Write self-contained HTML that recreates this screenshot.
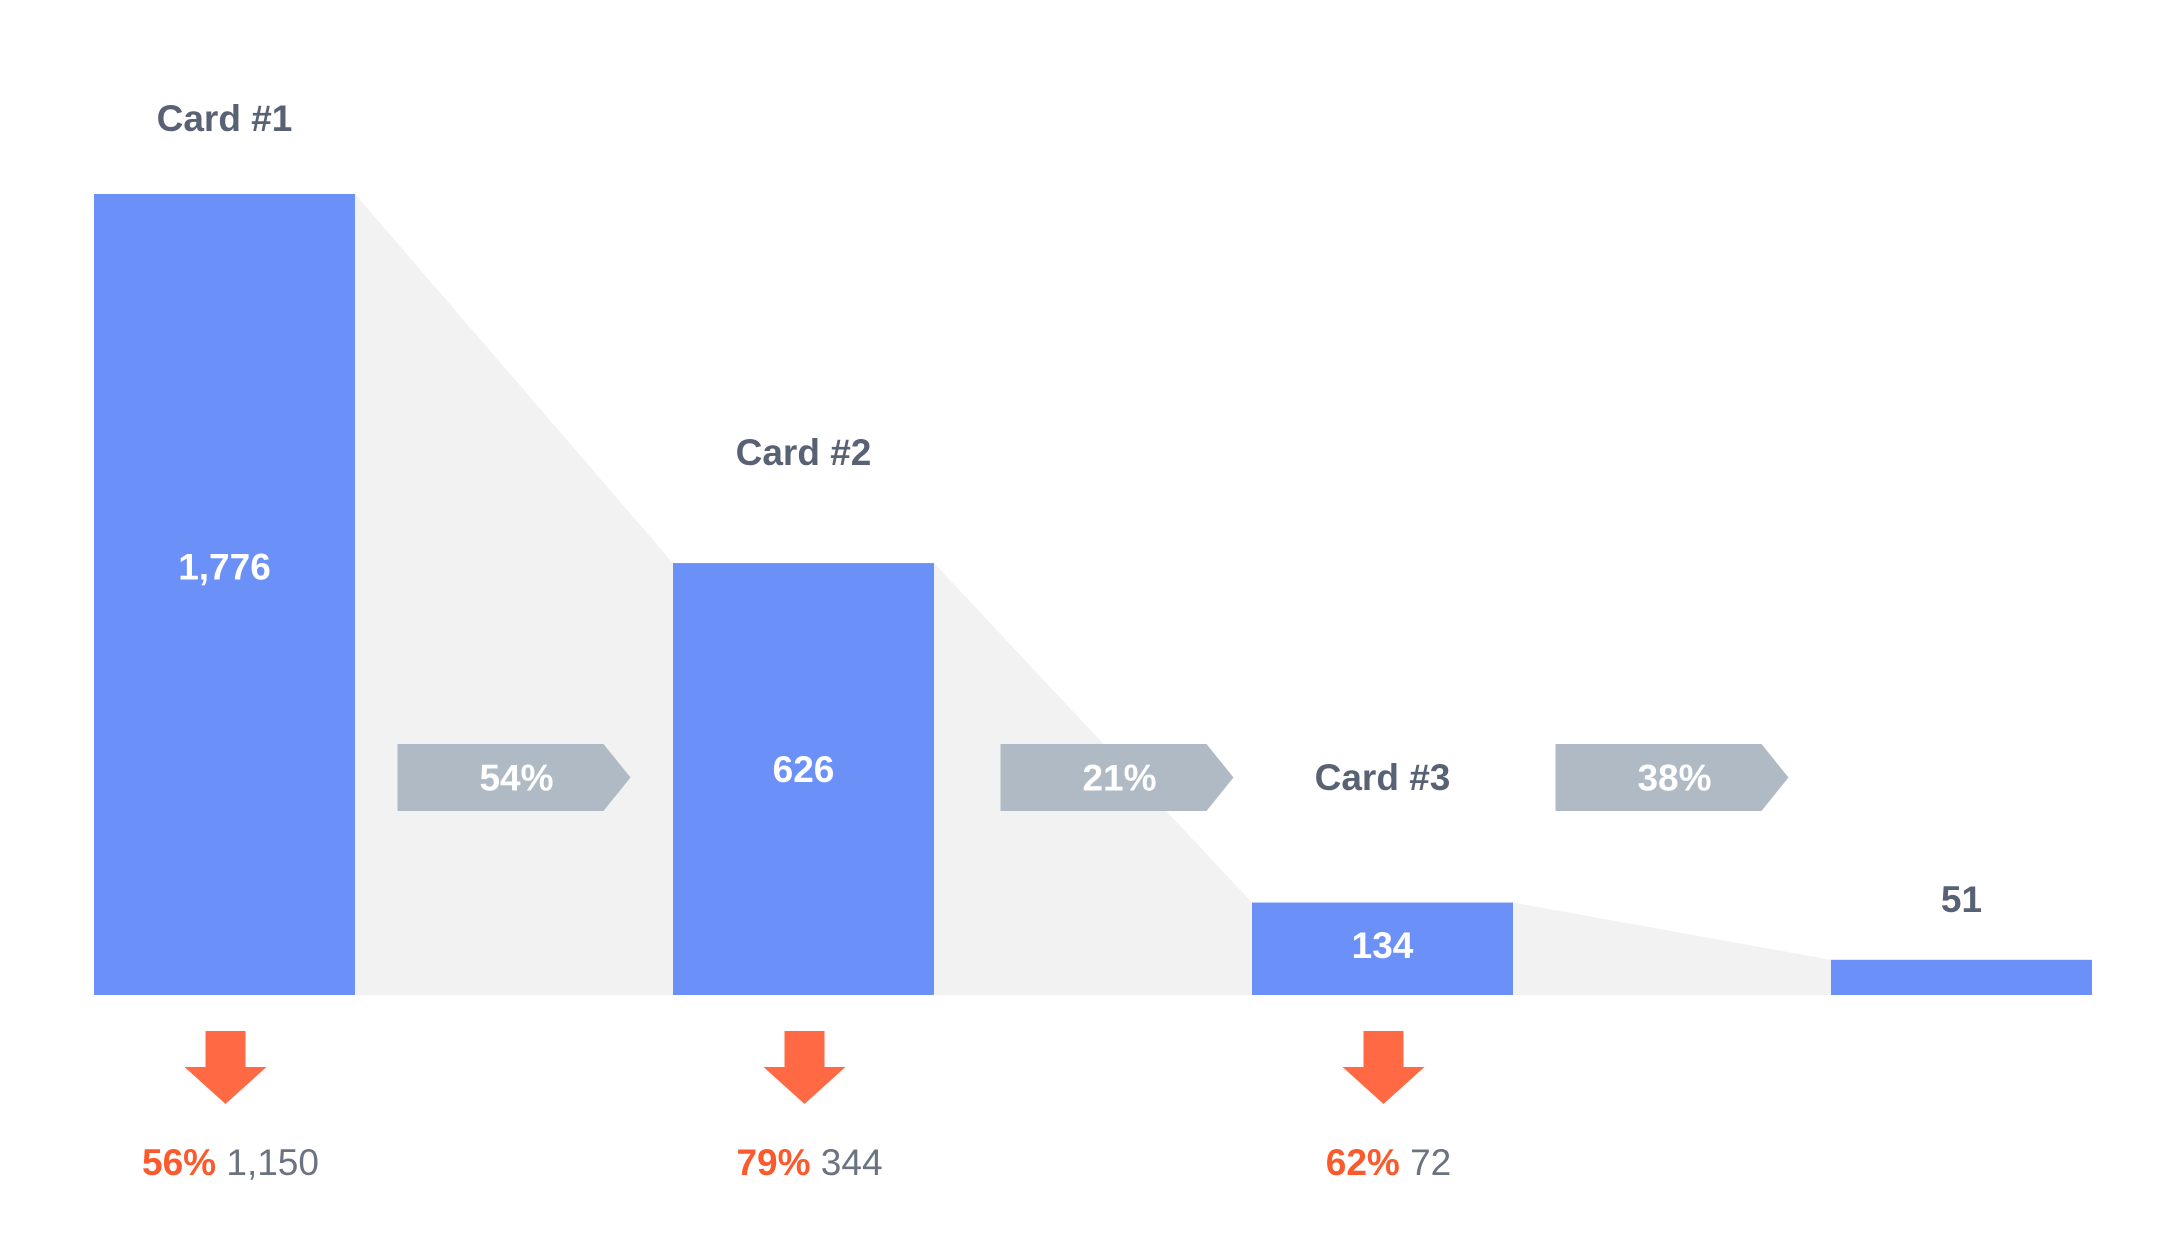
<!DOCTYPE html>
<html><head><meta charset="utf-8"><style>
html,body{margin:0;padding:0;background:#fff;}
svg{display:block;font-family:"Liberation Sans",sans-serif;}
</style></head><body>
<svg id="chart" width="2168" height="1236" viewBox="0 0 2168 1236" xmlns="http://www.w3.org/2000/svg"></svg>
<script>
const categories = ["Card #1", "Card #2", "Card #3", ""];
const values = [1776, 626, 134, 51];
const valueLabels = ["1,776", "626", "134", "51"];
const conversionLabels = ["54%", "21%", "38%"];
const dropPctLabels = ["56%", "79%", "62%"];
const dropCountLabels = ["1,150", "344", "72"];

const NS = "http://www.w3.org/2000/svg";
const svg = document.getElementById("chart");
const baseY = 995, maxH = 801, x0 = 94, step = 579, barW = 261, k = 0.69;
function yScale(v){ return baseY - Math.min(maxH, v * k); }
function xScale(i){ return x0 + i * step; }
function mk(tag, attrs, text){
  const el = document.createElementNS(NS, tag);
  for (const a in attrs) el.setAttribute(a, attrs[a]);
  if (text !== undefined) el.textContent = text;
  svg.appendChild(el);
  return el;
}
for (let i = 0; i < values.length - 1; i++) {
  const p = mk("polygon", {points:
    `${xScale(i)+barW},${yScale(values[i])} ${xScale(i+1)},${yScale(values[i+1])} ${xScale(i+1)},${baseY} ${xScale(i)+barW},${baseY}`, fill:"#f2f2f2"});
  
  
}
values.forEach((v, i) => {
  const x = xScale(i), y = yScale(v), cx = x + barW/2;
  const r = mk("rect", {x:x, y:y, width:barW, height:baseY - y, fill:"#6b91f8"});
  
  
  const h = baseY - y;
  if (h > 70) {
    const off = h > 600 ? -28 : (h > 200 ? -10 : -4);
    const t = mk("text", {x:cx, y:y + h/2 + 13 + off, "text-anchor":"middle", "font-size":37, "font-weight":"bold", fill:"#fff"}, valueLabels[i]);
    
    
  } else {
    const t = mk("text", {x:cx, y:y - 48, "text-anchor":"middle", "font-size":37, "font-weight":"bold", fill:"#596275"}, valueLabels[i]);
    
    
  }
  if (categories[i]) {
    const ly = Math.min(Math.max(y - 98, 131), 790);
    const t = mk("text", {x:cx, y:ly, "text-anchor":"middle", "font-size":37, "font-weight":"bold", fill:"#596275"}, categories[i]);
    
    
  }
});
conversionLabels.forEach((c, i) => {
  const w = 206, pt = 27, h = 67, y = 744;
  const gapMid = (xScale(i) + barW + xScale(i+1)) / 2 + (i === 1 ? 24 : 0);
  const x = gapMid - (w + pt) / 2;
  const p = mk("polygon", {points:`${x},${y} ${x+w},${y} ${x+w+pt},${y+h/2} ${x+w},${y+h} ${x},${y+h}`, fill:"#b0bac4"});
  
  
  const t = mk("text", {x:x + w/2 + 16, y:y + h/2 + 13, "text-anchor":"middle", "font-size":37, "font-weight":"bold", fill:"#fff"}, c);
  
  
});
dropPctLabels.forEach((d, i) => {
  const cx = xScale(i) + barW/2 + 1;
  const a = mk("polygon", {points:`${cx-20},1031 ${cx+20},1031 ${cx+20},1067 ${cx+41},1067 ${cx},1104 ${cx-41},1067 ${cx-20},1067`, fill:"#ff6a45"});
  
  
  const t = mk("text", {x:cx + 5, y:1175, "text-anchor":"middle", "font-size":37});
  
  
  const s1 = document.createElementNS(NS, "tspan");
  s1.setAttribute("fill", "#fa5a2c"); s1.setAttribute("font-weight", "bold");
  s1.textContent = d + " ";
  
  
  const s2 = document.createElementNS(NS, "tspan");
  s2.setAttribute("fill", "#6b7380");
  s2.textContent = dropCountLabels[i];
  
  
  t.appendChild(s1); t.appendChild(s2);
});
</script>
</body></html>
